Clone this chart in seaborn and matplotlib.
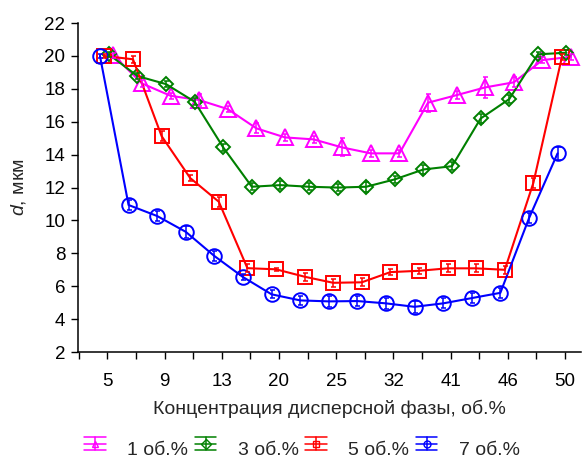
import numpy as np
import pandas as pd
import matplotlib
matplotlib.use("Agg")
import matplotlib.pyplot as plt
import seaborn as sns
from matplotlib.lines import Line2D
from matplotlib.legend_handler import HandlerBase

# ---------------- data ----------------
tick_labels = ["5", "", "9", "", "13", "", "20", "", "25", "", "32", "", "41", "", "46", "", "50"]
series_names = ["1 об.%", "3 об.%", "5 об.%", "7 об.%"]

d_1 = [20.05, 18.33, 17.58, 17.32, 16.77, 15.6, 15.05, 14.93, 14.44, 14.08, 14.08,
       17.16, 17.62, 18.09, 18.4, 19.75, 19.95]
d_3 = [20.1, 18.78, 18.29, 17.22, 14.44, 12.05, 12.15, 12.05, 12.0, 12.05, 12.5,
       13.1, 13.3, 16.2, 17.38, 20.1, 20.2]
d_5 = [20.0, 19.8, 15.13, 12.58, 11.14, 7.1, 7.03, 6.58, 6.21, 6.24, 6.86,
       6.94, 7.09, 7.09, 7.0, 12.29, 19.95]
d_7 = [20.0, 10.94, 10.27, 9.31, 7.84, 6.56, 5.51, 5.14, 5.08, 5.1, 4.96,
       4.75, 4.96, 5.28, 5.6, 10.13, 14.08]

err_1 = [0.15, 0.2, 0.2, 0.35, 0.2, 0.3, 0.2, 0.2, 0.55, 0.2, 0.2, 0.55, 0.25, 0.65, 0.3, 0.2, 0.2]
err_3 = [0.15, 0.2, 0.2, 0.2, 0.2, 0.2, 0.25, 0.2, 0.2, 0.3, 0.2, 0.25, 0.25, 0.3, 0.25, 0.15, 0.15]
err_5 = [0.15, 0.2, 0.3, 0.2, 0.3, 0.25, 0.1, 0.25, 0.25, 0.25, 0.2, 0.2, 0.25, 0.25, 0.25, 0.3, 0.2]
err_7 = [0.15, 0.3, 0.3, 0.35, 0.3, 0.2, 0.25, 0.25, 0.35, 0.3, 0.35, 0.35, 0.3, 0.3, 0.3, 0.3, 0.4]

values = [d_1, d_3, d_5, d_7]
errors = [err_1, err_3, err_5, err_7]

# ---------------- style ----------------
colors = ["#FF00FF", "#008000", "#FF0000", "#0000FF"]
markers = ["^", "D", "s", "o"]
msizes = [12, 7, 10, 10.5]
offsets = [0.21, 0.05, -0.105, -0.26]

sns.set_style("ticks")
plt.rcParams["font.family"] = ["Liberation Sans", "DejaVu Sans"]
plt.rcParams["mathtext.fontset"] = "custom"
plt.rcParams["mathtext.it"] = "Liberation Sans:italic"
plt.rcParams["mathtext.rm"] = "Liberation Sans"

fig = plt.figure(figsize=(5.86, 4.62), dpi=100)
ax = fig.add_axes([0.133, 0.238, 0.858, 0.712])

rows = []
for name, vals, errs, off in zip(series_names, values, errors, offsets):
    for i, (v, e) in enumerate(zip(vals, errs)):
        rows.append({"series": name, "pos": i + off, "d": v, "err": e})
df = pd.DataFrame(rows)

for name, col, mk, ms in zip(series_names, colors, markers, msizes):
    sub = df[df["series"] == name]
    sns.lineplot(data=sub, x="pos", y="d", ax=ax, color=col, lw=1.5,
                 marker=mk, markersize=ms, markerfacecolor="none",
                 markeredgecolor=col, markeredgewidth=1.4, legend=False,
                 sort=False, zorder=3)
    ax.errorbar(sub["pos"], sub["d"], yerr=sub["err"], fmt="none",
                ecolor=col, elinewidth=1.1, capsize=1.8, capthick=1.1, zorder=4)

ax.set_xlim(-1.03, 16.55)
ax.set_ylim(2, 22)
ax.set_yticks(np.arange(2, 23, 2))
ax.set_xticks(np.arange(-1, 17))
ax.set_xticklabels([""] + tick_labels)
ax.tick_params(axis="both", direction="out", length=5, width=1, colors="black",
               labelsize=13.5, pad=4)
ax.tick_params(axis="x", pad=10)
for s in ["top", "right"]:
    ax.spines[s].set_visible(False)
for s in ["left", "bottom"]:
    ax.spines[s].set_color("black")
    ax.spines[s].set_linewidth(1.1)

ax.set_xlabel("Концентрация дисперсной фазы, об.%", fontsize=14, labelpad=7)
ax.set_ylabel("$d$, мкм", fontsize=14, labelpad=12)


class ErrHandler(HandlerBase):
    def create_artists(self, legend, orig_handle, xdescent, ydescent, width, height,
                       fontsize, trans):
        col = orig_handle.get_color()
        mk = orig_handle.get_marker()
        y0 = height / 2 - ydescent + 3
        x0 = -xdescent
        dy = 4.8
        arts = []
        for yy in (y0 + dy, y0 - dy):
            arts.append(Line2D([x0, x0 + width], [yy, yy], color=col, lw=1.1, transform=trans))
        arts.append(Line2D([x0, x0 + width], [y0, y0], color=col, lw=1.1, transform=trans))
        arts.append(Line2D([x0 + width / 2] * 2, [y0 - dy, y0 + dy], color=col, lw=1.1,
                           transform=trans))
        arts.append(Line2D([x0 + width / 2], [y0], marker=mk, markersize=5,
                           markerfacecolor="none", markeredgecolor=col, markeredgewidth=1,
                           transform=trans))
        return arts


handles = [Line2D([], [], color=c, marker=m) for c, m in zip(colors, markers)]
fig.legend(handles, series_names, handler_map={Line2D: ErrHandler()},
           loc="center", bbox_to_anchor=(302 / 586, 0.026), ncol=4, frameon=False,
           fontsize=14, handlelength=1.1, handletextpad=1.1, columnspacing=0.35,
           borderpad=0.1)

fig.savefig("out.png", dpi=100)
